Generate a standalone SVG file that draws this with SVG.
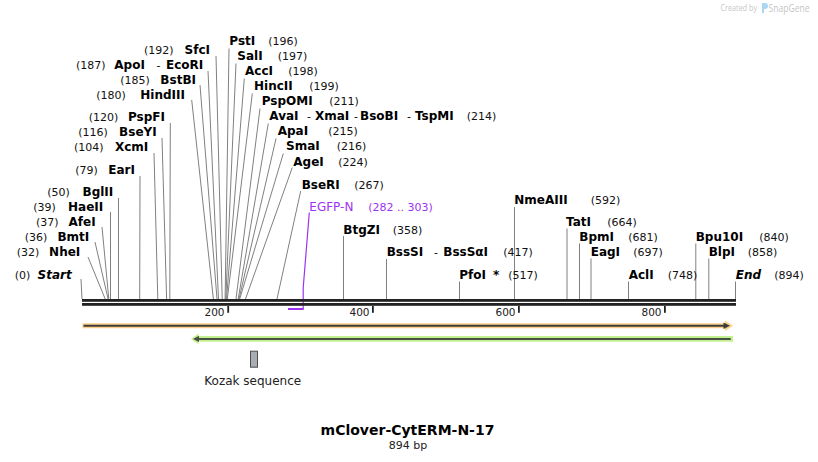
<svg xmlns="http://www.w3.org/2000/svg" width="818" height="462" viewBox="0 0 818 462">
<style>
text{font-family:"DejaVu Sans","Verdana",sans-serif;fill:#000}
.n{font-size:12px;font-weight:bold}
.e{font-size:12px;font-weight:bold;text-anchor:end}
.i{font-size:12px;font-weight:bold;font-style:italic}
.p{font-size:11px;fill:#111}
.d{font-size:11px}
.t{font-size:10.5px;fill:#222;text-anchor:end}
.cut{stroke:#808080;stroke-width:1;fill:none}
.pur{fill:#9d33f0}
.tick{fill:#222}
.wm{font-family:"Open Sans","DejaVu Sans",sans-serif;fill:#c6c6c6}
</style>
<rect width="818" height="462" fill="#fff"/>
<g id="watermark">
<text class="wm" x="720.5" y="11" style="font-size:8.5px" textLength="36.5" lengthAdjust="spacingAndGlyphs">Created by</text>
<path d="M762 3 h3 a2.5 2.5 0 0 1 0 6 h-1 v4 h-2 z" fill="#a9d6f3"/>
<text class="wm" x="768.5" y="11.5" style="font-size:10.5px" textLength="41" lengthAdjust="spacingAndGlyphs">SnapGene</text>
</g>
<g id="connectors">
<path class="cut" d="M81 279 L82 299"/>
<path class="cut" d="M88 257 L105.2 299"/>
<path class="cut" d="M95 242 L108.1 299"/>
<path class="cut" d="M102 227 L108.8 299"/>
<path class="cut" d="M110.5 212 L110.5 299"/>
<path class="cut" d="M118.5 198 L118.5 299"/>
<path class="cut" d="M140 176 L139.7 299"/>
<path class="cut" d="M154 153 L157.8 299"/>
<path class="cut" d="M162 138 L166.6 299"/>
<path class="cut" d="M170.3 123 L169.8 299"/>
<path class="cut" d="M191.7 100 L213.4 299"/>
<path class="cut" d="M200 85 L217 299"/>
<path class="cut" d="M208 71 L218.5 299"/>
<path class="cut" d="M216 56 L222.2 299"/>
<path class="cut" d="M229 48.5 L225.1 299"/>
<path class="cut" d="M236 63.5 L225.8 299"/>
<path class="cut" d="M244.3 78.5 L226.5 299"/>
<path class="cut" d="M252.3 93.5 L227.3 299"/>
<path class="cut" d="M260 108.5 L236 299"/>
<path class="cut" d="M268.3 123.5 L238.2 299"/>
<path class="cut" d="M276 138.5 L239 299"/>
<path class="cut" d="M283.3 153.5 L239.7 299"/>
<path class="cut" d="M292.3 167.5 L245.5 299"/>
<path class="cut" d="M300.7 191 L277 299"/>
<path class="cut" d="M343.5 236 L343.5 299"/>
<path class="cut" d="M386.5 259 L386.5 299"/>
<path class="cut" d="M459.5 281.5 L459.5 299"/>
<path class="cut" d="M514.5 207 L514.5 299"/>
<path class="cut" d="M567 228.5 L567 299"/>
<path class="cut" d="M579.5 243.5 L579.5 299"/>
<path class="cut" d="M591 258.5 L591 299"/>
<path class="cut" d="M628.5 281.5 L628.5 299"/>
<path class="cut" d="M695.8 243.5 L695.8 299"/>
<path class="cut" d="M708.8 258.5 L708.8 299"/>
<path class="cut" d="M735.5 281.5 L735.5 299"/>
<path d="M309.3 212.5 L303.2 288 L303.2 309.5" stroke="#9d33f0" stroke-width="1.2" fill="none"/>
</g>
<g id="sequence">
<rect x="82" y="299" width="654" height="2.8" fill="#222"/>
<rect x="82" y="303" width="654" height="2.8" fill="#222"/>
<rect class="pur" x="288" y="308" width="15.5" height="2"/>
<rect class="tick" x="227.3" y="306" width="1.8" height="6.8"/>
<rect class="tick" x="372" y="306" width="1.8" height="6.8"/>
<rect class="tick" x="518" y="306" width="1.8" height="6.8"/>
<rect class="tick" x="664" y="306" width="1.8" height="6.8"/>
<text class="t" x="224.5" y="316">200</text>
<text class="t" x="369.5" y="316">400</text>
<text class="t" x="515.5" y="316">600</text>
<text class="t" x="661.5" y="316">800</text>
</g>
<g id="feature-orange">
<path d="M82.5 323.3 H725 V320.5 L733 325.8 L725 331 V328.3 H82.5 Z" fill="#fcd089"/>
<path d="M83.5 325.8 H725" stroke="#3c3c3c" stroke-width="2"/>
<path d="M723.5 322.6 L730 325.8 L723.5 329 Z" fill="#3c3c3c"/>
</g>
<g id="feature-green">
<path d="M733 336 V341.7 H198.5 V344.3 L191 338.9 L198.5 333.5 V336 Z" fill="#c3f18f"/>
<path d="M196 338.9 H730.7" stroke="#4a4f45" stroke-width="2"/>
<path d="M199 335.8 L193 338.9 L199 342 Z" fill="#4a4f45"/>
</g>
<g id="kozak">
<rect x="250.5" y="351.2" width="7" height="16" fill="#a8acb3" stroke="#4d4d4d" stroke-width="1"/>
<text x="204.3" y="384.5" style="font-size:12px;fill:#222">Kozak sequence</text>
</g>
<g id="start"><text class="p" x="14.7" y="279">(0)</text><text class="i" x="71.7" y="279" text-anchor="end">Start</text></g>
<g id="NheI"><text class="p" x="16.7" y="256">(32)</text><text class="e" x="80.3" y="256">NheI</text></g>
<g id="BmtI"><text class="p" x="24.7" y="241">(36)</text><text class="e" x="89.3" y="241">BmtI</text></g>
<g id="AfeI"><text class="p" x="36" y="226">(37)</text><text class="e" x="95.7" y="226">AfeI</text></g>
<g id="HaeII"><text class="p" x="33.3" y="211">(39)</text><text class="e" x="103.3" y="211">HaeII</text></g>
<g id="BglII"><text class="p" x="47.3" y="196">(50)</text><text class="e" x="113.3" y="196">BglII</text></g>
<g id="EarI"><text class="p" x="75.3" y="174">(79)</text><text class="e" x="135" y="174">EarI</text></g>
<g id="XcmI"><text class="p" x="74" y="151">(104)</text><text class="e" x="148.3" y="151">XcmI</text></g>
<g id="BseYI"><text class="p" x="78.3" y="136">(116)</text><text class="e" x="156.7" y="136">BseYI</text></g>
<g id="PspFI"><text class="p" x="88.7" y="121">(120)</text><text class="e" x="165" y="121">PspFI</text></g>
<g id="HindIII"><text class="p" x="96.3" y="99">(180)</text><text class="e" x="185" y="99">HindIII</text></g>
<g id="BstBI"><text class="p" x="120.3" y="84">(185)</text><text class="e" x="196" y="84">BstBI</text></g>
<g id="ApoI-EcoRI"><text class="p" x="76" y="69">(187)</text><text class="n" x="114.3" y="69">ApoI</text><text class="d" x="156.5" y="69">-</text><text class="e" x="203.3" y="69">EcoRI</text></g>
<g id="SfcI"><text class="p" x="144" y="54">(192)</text><text class="e" x="210" y="54">SfcI</text></g>
<g id="PstI"><text class="n" x="229.3" y="45">PstI</text><text class="p" x="268.3" y="45">(196)</text></g>
<g id="SalI"><text class="n" x="237.3" y="60">SalI</text><text class="p" x="277.7" y="60">(197)</text></g>
<g id="AccI"><text class="n" x="245" y="75">AccI</text><text class="p" x="288.3" y="75">(198)</text></g>
<g id="HincII"><text class="n" x="254" y="90">HincII</text><text class="p" x="309.3" y="90">(199)</text></g>
<g id="PspOMI"><text class="n" x="261.7" y="105">PspOMI</text><text class="p" x="329.3" y="105">(211)</text></g>
<g id="AvaI-group"><text class="n" x="269.3" y="120">AvaI</text><text class="d" x="307" y="120">-</text><text class="n" x="315" y="120">XmaI</text><text class="d" x="354" y="120">-</text><text class="n" x="360" y="120">BsoBI</text><text class="d" x="407" y="120">-</text><text class="n" x="415" y="120">TspMI</text><text class="p" x="466.7" y="120">(214)</text></g>
<g id="ApaI"><text class="n" x="277.7" y="135">ApaI</text><text class="p" x="328.3" y="135">(215)</text></g>
<g id="SmaI"><text class="n" x="286" y="150">SmaI</text><text class="p" x="336.7" y="150">(216)</text></g>
<g id="AgeI"><text class="n" x="293.3" y="166">AgeI</text><text class="p" x="338.3" y="166">(224)</text></g>
<g id="BseRI"><text class="n" x="301.7" y="189">BseRI</text><text class="p" x="354.3" y="189">(267)</text></g>
<g id="EGFP-N"><text x="309.3" y="211" style="font-size:12px;fill:#9d33f0">EGFP-N</text><text x="368.3" y="211" style="font-size:11px;fill:#9d33f0">(282 .. 303)</text></g>
<g id="BtgZI"><text class="n" x="343.3" y="234">BtgZI</text><text class="p" x="392.7" y="234">(358)</text></g>
<g id="BssSI"><text class="n" x="386.7" y="256">BssSI</text><text class="d" x="434" y="256">-</text><text class="n" x="443.3" y="256">BssSαI</text><text class="p" x="503.3" y="256">(417)</text></g>
<g id="PfoI"><text class="n" x="459.3" y="279">PfoI</text><text class="n" x="493" y="279">*</text><text class="p" x="508.3" y="279">(517)</text></g>
<g id="NmeAIII"><text class="n" x="514.3" y="204">NmeAIII</text><text class="p" x="590.7" y="204">(592)</text></g>
<g id="TatI"><text class="n" x="566" y="226">TatI</text><text class="p" x="607.3" y="226">(664)</text></g>
<g id="BpmI"><text class="n" x="579.3" y="241">BpmI</text><text class="p" x="628.3" y="241">(681)</text></g>
<g id="EagI"><text class="n" x="590.7" y="256">EagI</text><text class="p" x="633.3" y="256">(697)</text></g>
<g id="AclI"><text class="n" x="628.7" y="279">AclI</text><text class="p" x="667.7" y="279">(748)</text></g>
<g id="Bpu10I"><text class="n" x="695.7" y="241">Bpu10I</text><text class="p" x="759.3" y="241">(840)</text></g>
<g id="BlpI"><text class="n" x="708.7" y="256">BlpI</text><text class="p" x="747.7" y="256">(858)</text></g>
<g id="end"><text class="i" x="735.7" y="279">End</text><text class="p" x="774.3" y="279">(894)</text></g>
<g id="title">
<text x="407.5" y="435" text-anchor="middle" style="font-size:14px;font-weight:bold">mClover-CytERM-N-17</text>
<text x="408" y="449" text-anchor="middle" style="font-size:11px;fill:#222">894 bp</text>
</g>
</svg>
